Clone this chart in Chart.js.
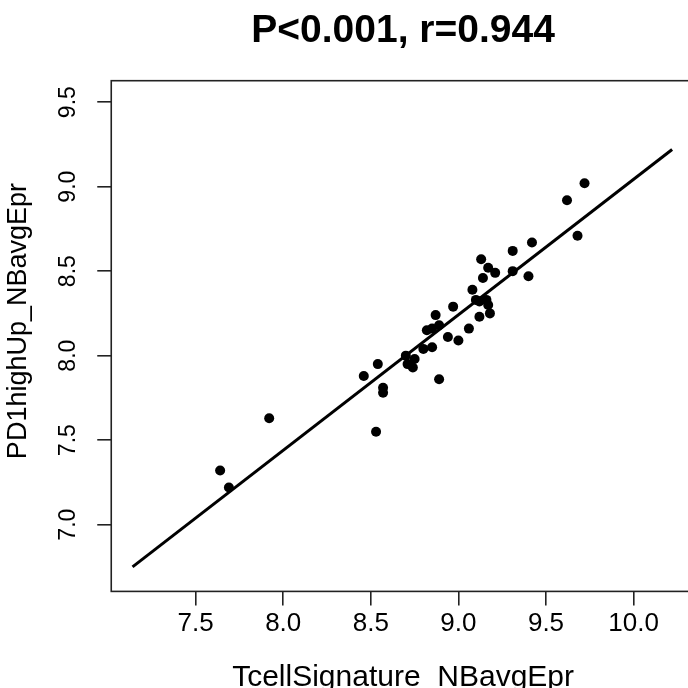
<!DOCTYPE html>
<html>
<head>
<meta charset="utf-8">
<script src="https://cdn.jsdelivr.net/npm/chart.js@4.4.0/dist/chart.umd.min.js"></script>
<style>
  html, body { margin: 0; padding: 0; background: #fff; overflow: hidden; }
  #wrap { width: 700px; height: 688px; position: relative; }
</style>
</head>
<body>
<div id="wrap"><canvas id="c"></canvas></div>
<script>
// ---- data ----
const chartTitle = "P<0.001, r=0.944";
const xAxisLabel = "TcellSignature_NBavgEpr";
const yAxisLabel = "    PD1highUp_NBavgEpr";

const xValues = [7.64, 7.69, 7.92, 8.46, 8.54, 8.53, 8.57, 8.57, 8.70, 8.71, 8.75, 8.74, 8.80, 8.85,
                 8.82, 8.85, 8.89, 8.87, 8.89, 8.94, 9.00, 8.97, 9.06, 9.08, 9.10, 9.12, 9.16, 9.17,
                 9.12, 9.18, 9.14, 9.13, 9.17, 9.21, 9.31, 9.31, 9.40, 9.42, 9.62, 9.72, 9.68];
const yValues = [7.32, 7.22, 7.63, 7.88, 7.95, 7.55, 7.81, 7.78, 8.00, 7.95, 7.98, 7.93, 8.04, 8.05,
                 8.15, 8.16, 8.18, 8.24, 7.86, 8.11, 8.09, 8.29, 8.16, 8.39, 8.33, 8.32, 8.33, 8.30,
                 8.23, 8.25, 8.46, 8.57, 8.52, 8.49, 8.50, 8.62, 8.47, 8.67, 8.92, 9.02, 8.71];

const fitX = [7.14, 10.22];
const fitY = [6.75, 9.22];

const xTicks = [7.5, 8.0, 8.5, 9.0, 9.5, 10.0];
const yTicks = [7.0, 7.5, 8.0, 8.5, 9.0, 9.5];

const xRange = [7.0185, 10.35];
const yRange = [6.605, 9.627];

// ---- chart ----
Chart.defaults.font.family = '"Liberation Sans", Arial, sans-serif';
Chart.defaults.color = '#000';

const points = xValues.map((x, i) => ({ x: x, y: yValues[i] }));
const fitLine = fitX.map((x, i) => ({ x: x, y: fitY[i] }));

const boxPlugin = {
  id: 'box',
  beforeDatasetsDraw(chart) {
    const a = chart.chartArea, ctx = chart.ctx;
    ctx.save();
    ctx.strokeStyle = '#222';
    ctx.lineWidth = 1.6;
    ctx.strokeRect(a.left, a.top, a.right - a.left, a.bottom - a.top);
    ctx.restore();
  }
};

new Chart(document.getElementById('c'), {
  type: 'scatter',
  data: {
    datasets: [
      {
        type: 'line',
        data: fitLine,
        borderColor: '#000',
        borderWidth: 3,
        pointRadius: 0,
        fill: false,
        tension: 0
      },
      {
        data: points,
        backgroundColor: '#000',
        borderColor: '#000',
        borderWidth: 0,
        pointRadius: 5,
        pointHoverRadius: 5
      }
    ]
  },
  options: {
    responsive: true,
    maintainAspectRatio: false,
    animation: false,
    layout: { padding: { left: 0, top: 0, bottom: 0, right: 5.1 } },
    plugins: {
      legend: { display: false },
      tooltip: { enabled: false },
      title: {
        display: true,
        text: chartTitle,
        fullSize: false,
        color: '#000',
        font: { size: 39, weight: 'bold' },
        padding: { top: 8, bottom: 25.9 }
      }
    },
    scales: {
      x: {
        type: 'linear',
        min: xRange[0],
        max: xRange[1],
        afterBuildTicks: (s) => { s.ticks = xTicks.map(v => ({ value: v })); },
        afterFit: (s) => { s.height = 96.6; },
        ticks: {
          includeBounds: false,
          padding: 3.2,
          font: { size: 26 },
          color: '#000',
          maxRotation: 0,
          autoSkip: false,
          callback: (v) => Number(v).toFixed(1)
        },
        grid: { display: true, drawOnChartArea: false, drawTicks: true, tickLength: 14, color: '#222', lineWidth: 1.6 },
        border: { display: false },
        title: {
          display: true,
          text: xAxisLabel,
          color: '#000',
          font: { size: 30 },
          padding: { top: 0, bottom: -7.3 }
        }
      },
      y: {
        type: 'linear',
        min: yRange[0],
        max: yRange[1],
        afterBuildTicks: (s) => { s.ticks = yTicks.map(v => ({ value: v })); },
        afterFit: (s) => { s.width = 111.25; },
        ticks: {
          includeBounds: false,
          padding: 13,
          minRotation: 90,
          maxRotation: 90,
          crossAlign: 'center',
          font: { size: 23 },
          color: '#000',
          autoSkip: false,
          callback: (v) => Number(v).toFixed(1)
        },
        grid: { display: true, drawOnChartArea: false, drawTicks: true, tickLength: 14, color: '#222', lineWidth: 1.6 },
        border: { display: false },
        title: {
          display: true,
          text: yAxisLabel,
          color: '#000',
          font: { size: 27 },
          padding: { top: 2, bottom: 0 }
        }
      }
    }
  },
  plugins: [boxPlugin]
});
</script>
</body>
</html>
